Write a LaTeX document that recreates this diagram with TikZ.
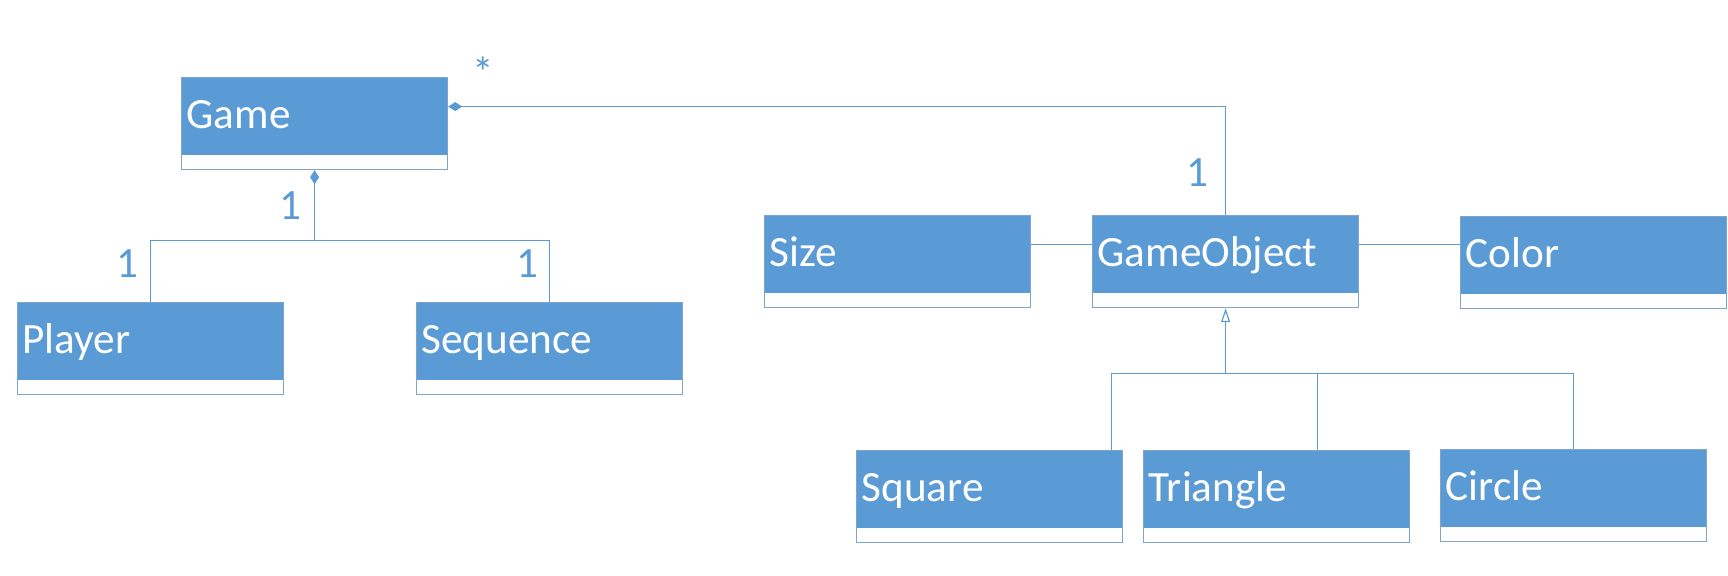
\documentclass[tikz,border=0pt]{standalone}
\usepackage{fontspec}
\setmainfont{Carlito}
\usetikzlibrary{arrows.meta,positioning,calc}
\definecolor{classblue}{HTML}{5B9BD5}
\definecolor{classedge}{HTML}{7FA6CA}
\tikzset{
  class/.style={draw=classedge, line width=0.6pt, fill=white, anchor=north west,
    minimum width=133pt, minimum height=46pt, inner xsep=2.5pt, inner ysep=0pt,
    text width=128pt, align=left, text height=25.5pt, text depth=20.5pt,
    text=white, font=\fontsize{21.6}{26}\selectfont,
    path picture={\fill[classblue] (path picture bounding box.north west)
      rectangle ([yshift=7.5pt]path picture bounding box.south east);}},
  link/.style={draw=classblue, line width=0.6pt},
  mult/.style={text=classblue, inner sep=0pt, font=\fontsize{21.6}{26}\selectfont},
}
\begin{document}
\begin{tikzpicture}[x=0.5pt,y=-0.5pt]
  \useasboundingbox (0,0) rectangle (1728,576);
  % classes
  \foreach \n/\t/\x/\y in {%
    game/Game/181/77, player/Player/17/302, sequence/Sequence/416/302,
    size/Size/764/215, gobj/GameObject/1092/215, color/Color/1460/216,
    square/Square/856/450, triangle/Triangle/1143/450, circle/Circle/1440/449
  }{%
    \node[class] (\n) at (\x,\y) {\t};
  }%
  % composition
  \coordinate (gjoin) at ([yshift=-35pt]game.south);
  \draw[link,{Diamond[length=7pt,width=4.5pt]}-] (game.south) -- (gjoin);
  \draw[link] (gjoin) -| (player.north);
  \draw[link] (gjoin) -| (sequence.north);
  \draw[link,{Diamond[length=7pt,width=4.5pt]}-] ([yshift=8.5pt]game.east) -| (gobj.north);
  % associations
  \foreach \a/\b in {size/gobj, gobj/color}{%
    \draw[link] ([yshift=8.5pt]\a.east) -- ([yshift=8.5pt]\a.east -| \b.west);
  }%
  % inheritance
  \coordinate (ijoin) at ([yshift=-32.5pt]gobj.south);
  \draw[link,-{Triangle[open,length=7pt,width=4.5pt]}] (ijoin) -- (gobj.south);
  \draw[link] (ijoin) -| ([xshift=-6pt]square.north east);
  \draw[link] (ijoin) -| ([xshift=20.5pt]triangle.north);
  \draw[link] (ijoin) -| (circle.north);
  % multiplicities
  \node[mult] (m-star) at ([xshift=17.5pt,yshift=2.5pt]game.north east) {*};
  \node[mult] (m-game) at ([xshift=-12pt]$(game.south)!0.5!(gjoin)$) {1};
  \node[mult] (m-player) at ([xshift=-11.5pt,yshift=19pt]player.north) {1};
  \node[mult] (m-sequence) at ([xshift=-11pt,yshift=19pt]sequence.north) {1};
  \node[mult] (m-gobj) at ([xshift=-14pt,yshift=21pt]gobj.north) {1};
\end{tikzpicture}
\end{document}
